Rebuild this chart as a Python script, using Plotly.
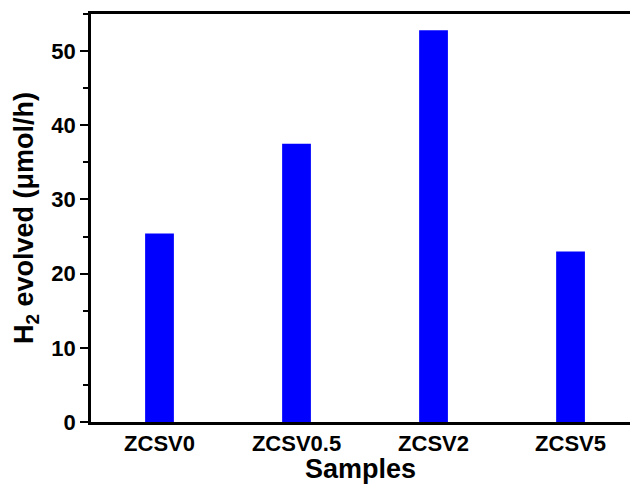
import plotly.graph_objects as go

samples = ["ZCSV0", "ZCSV0.5", "ZCSV2", "ZCSV5"]
h2_rate = [25.4, 37.5, 52.8, 23.0]
y_ticks = [0, 10, 20, 30, 40, 50]

font_family = "Liberation Sans, Arial, sans-serif"

fig = go.Figure(
    go.Bar(
        x=list(range(len(samples))),
        y=h2_rate,
        width=0.21,
        marker=dict(color="#0000ff", line=dict(width=0)),
    )
)

fig.update_layout(
    width=630,
    height=484,
    margin=dict(l=91, r=0, t=14, b=62),
    paper_bgcolor="white",
    plot_bgcolor="white",
    showlegend=False,
    font=dict(family=font_family, color="black"),
)

fig.update_xaxes(
    range=[-0.5, 3.434],
    tickmode="array",
    tickvals=list(range(len(samples))),
    ticktext=[f"<b>{s}</b>" for s in samples],
    tickfont=dict(size=22),
    ticks="",
    showline=True,
    linewidth=2.5,
    linecolor="black",
    mirror=True,
    showgrid=False,
    zeroline=False,
    title=dict(text="<b>Samples</b>", font=dict(size=27), standoff=1),
)

fig.update_yaxes(
    range=[0, 55],
    tickmode="array",
    tickvals=y_ticks,
    ticktext=[f"<b>{v}</b>" for v in y_ticks],
    tickfont=dict(size=22),
    ticks="outside",
    ticklen=8,
    tickwidth=2,
    tickcolor="black",
    minor=dict(ticks="outside", ticklen=5, tickwidth=2, tickcolor="black", dtick=5, tick0=0, showgrid=False),
    showline=True,
    linewidth=2.5,
    linecolor="black",
    showgrid=False,
    zeroline=False,
    title=dict(text="<b>H<sub>2</sub> evolved (μmol/h)</b>", font=dict(size=27), standoff=10),
)

fig.write_html("out.html")
